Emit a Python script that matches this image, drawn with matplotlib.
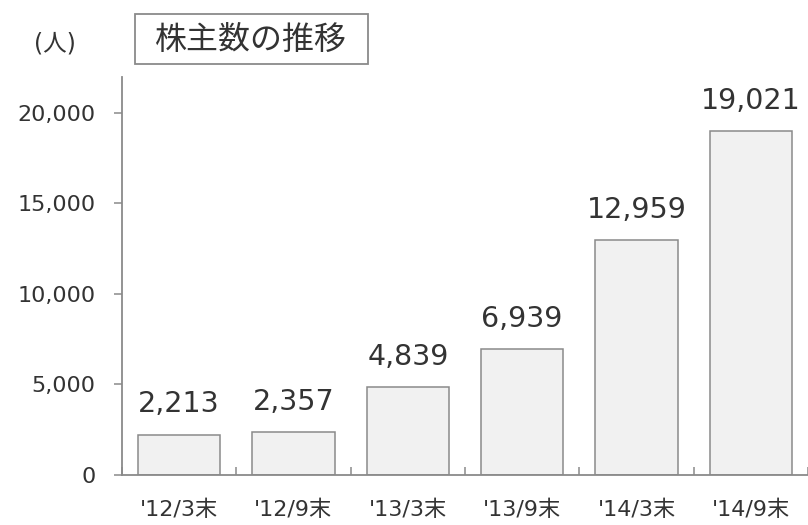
import matplotlib
matplotlib.use("Agg")
import matplotlib.pyplot as plt
from matplotlib.patches import Rectangle

# wide latin digits, CJK glyphs fall back to Noto
plt.rcParams['font.family'] = ['DejaVu Sans', 'Noto Sans CJK JP']

periods = ["'12/3末", "'12/9末", "'13/3末", "'13/9末", "'14/3末", "'14/9末"]
holders = [2213, 2357, 4839, 6939, 12959, 19021]
y_ticks = [0, 5000, 10000, 15000, 20000]

text_col = "#333333"
line_col = "#8a8a8a"

fig = plt.figure(figsize=(8.08, 5.25), dpi=100)
ax = fig.add_axes([122 / 808, 50.3 / 525, 686 / 808, 397.8 / 525])

xs = list(range(len(periods)))
bars = ax.bar(xs, holders, width=0.72, color="#f1f1f1",
              edgecolor=line_col, linewidth=1.1)

# value labels above each bar
for x, v in zip(xs, holders):
    ax.annotate(f"{v:,}", (x, v), xytext=(0, 16), textcoords="offset points",
                ha="center", va="baseline", fontsize=20.5, color=text_col)

ax.set_xlim(-0.5, len(periods) - 0.5)
ax.set_ylim(0, 22000)

# small inward ticks at category boundaries, labels at centres
ax.set_xticks([i - 0.5 for i in range(len(periods) + 1)])
ax.set_xticklabels([])
ax.set_xticks(xs, minor=True)
ax.set_xticklabels(periods, minor=True)
ax.tick_params(axis="x", which="major", direction="in", length=6,
               width=1.1, color=line_col)
ax.tick_params(axis="x", which="minor", length=0, pad=18,
               labelsize=16, labelcolor=text_col)

ax.set_yticks(y_ticks)
ax.set_yticklabels([f"{t:,}" for t in y_ticks])
ax.tick_params(axis="y", direction="out", length=6, width=1.1,
               color=line_col, pad=13, labelsize=16, labelcolor=text_col)

for side in ("top", "right"):
    ax.spines[side].set_visible(False)
for side in ("left", "bottom"):
    ax.spines[side].set_color(line_col)
    ax.spines[side].set_linewidth(1.3)

# unit label and boxed title
fig.text(55 / 808, 1 - 43 / 525, "(人)", ha="center", va="center",
         fontsize=17, color=text_col)
fig.patches.append(Rectangle((135 / 808, 1 - 64 / 525), 233 / 808, 50 / 525,
                             transform=fig.transFigure, facecolor="white",
                             edgecolor=line_col, linewidth=1.3))
fig.text(251 / 808, 1 - 40 / 525, "株主数の推移", ha="center", va="center",
         fontsize=23, color=text_col, family="Noto Sans CJK JP")

fig.savefig("out.png", dpi=100)
